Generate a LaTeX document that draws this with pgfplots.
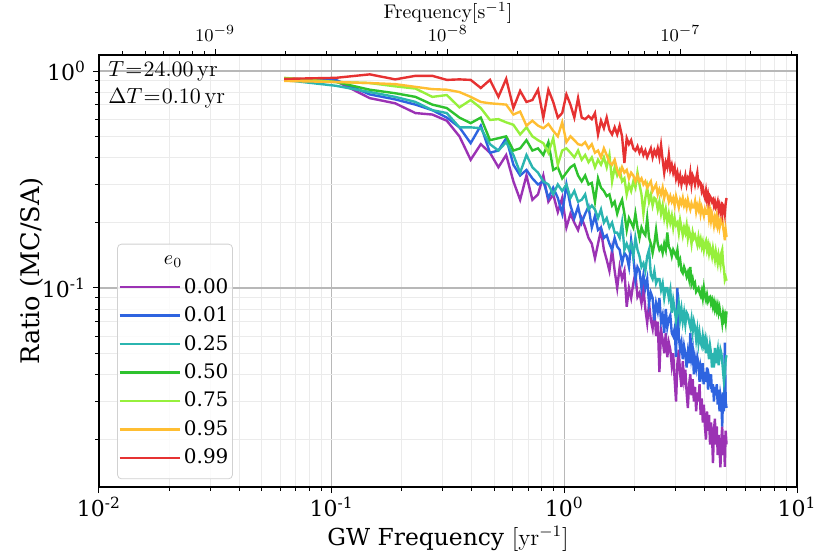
\documentclass[border=0pt]{standalone}
\usepackage{fontspec}
\usepackage{pgfplots}
\pgfplotsset{compat=1.18}
\usepackage{pgfplotstable}
\newfontfamily\djs{DejaVu Serif}
\definecolor{cP}{HTML}{9B32B4}
\definecolor{cB}{HTML}{2E64E0}
\definecolor{cT}{HTML}{2BB5B0}
\definecolor{cG}{HTML}{2EC22E}
\definecolor{cL}{HTML}{96F03C}
\definecolor{cO}{HTML}{FFBE32}
\definecolor{cR}{HTML}{E63232}
\pgfplotstableread{
k p b t g l o r
1 0.92 0.92 0.91 0.92 0.93 0.90 0.92
2 0.90 0.91 0.855 0.89 0.89 0.89 0.93
3 0.75 0.78 0.80 0.82 0.88 0.88 0.965
4 0.71 0.74 0.76 0.79 0.85 0.87 0.915
5 0.64 0.70 0.72 0.76 0.83 0.845 0.95
6 0.63 0.66 0.66 0.70 0.76 0.825 0.95
7 0.59 0.61 0.64 0.675 0.775 0.82 0.91
8 0.50 0.55 0.55 0.61 0.68 0.80 0.915
9 0.39 0.465 0.55 0.575 0.735 0.76 0.91
10 0.46 0.56 0.545 0.61 0.675 0.72 0.835
11 0.42 0.42 0.46 0.48 0.595 0.71 0.91
12 0.36 0.43 0.43 0.49 0.60 0.705 0.76
13 0.41 0.49 0.47 0.50 0.58 0.70 0.92
14 0.31 0.37 0.41 0.43 0.565 0.63 0.675
15 0.255 0.33 0.34 0.44 0.51 0.65 0.81
16 0.33 0.35 0.41 0.48 0.55 0.56 0.72
17 0.255 0.32 0.36 0.43 0.50 0.59 0.735
18 0.27 0.30 0.34 0.44 0.48 0.56 0.82
19 0.33 0.31 0.31 0.41 0.465 0.545 0.61
20 0.25 0.26 0.30 0.47 0.42 0.57 0.82
21 0.27 0.29 0.27 0.35 0.49 0.53 0.72
22 0.224 0.26 0.30 0.36 0.37 0.50 0.61
23 0.26 0.22 0.28 0.32 0.43 0.58 0.64
24 0.19 0.30 0.30 0.34 0.44 0.47 0.78
25 0.22 0.24 0.26 0.36 0.42 0.50 0.70
26 0.20 0.21 0.28 0.37 0.40 0.48 0.61
27 0.185 0.237 0.25 0.33 0.43 0.46 0.75
28 0.21 0.20 0.255 0.31 0.39 0.455 0.61
29 0.19 0.22 0.27 0.33 0.41 0.47 0.60
30 0.17 0.237 0.23 0.30 0.38 0.44 0.62
31 0.16 0.19 0.24 0.305 0.40 0.46 0.60
32 0.137 0.215 0.23 0.25 0.36 0.42 0.64
33 0.16 0.185 0.21 0.32 0.39 0.43 0.51
34 0.185 0.19 0.23 0.29 0.37 0.40 0.59
35 0.15 0.17 0.20 0.28 0.40 0.44 0.545
36 0.135 0.175 0.21 0.265 0.36 0.41 0.61
37 0.12 0.16 0.19 0.27 0.41 0.38 0.535
38 0.15 0.15 0.20 0.24 0.31 0.37 0.51
39 0.12 0.17 0.18 0.25 0.36 0.39 0.55
40 0.10 0.155 0.18 0.22 0.33 0.35 0.51
41 0.125 0.15 0.17 0.24 0.35 0.33 0.56
42 0.11 0.13 0.20 0.255 0.31 0.36 0.50
43 0.12 0.145 0.15 0.22 0.32 0.34 0.377
44 0.082 0.14 0.16 0.185 0.27 0.35 0.49
45 0.10 0.125 0.15 0.21 0.30 0.32 0.46
46 0.09 0.166 0.16 0.20 0.28 0.34 0.48
47 0.105 0.14 0.14 0.19 0.31 0.33 0.44
48 0.117 0.109 0.17 0.22 0.29 0.31 0.43
49 0.091 0.125 0.15 0.19 0.34 0.33 0.45
50 0.095 0.12 0.14 0.17 0.30 0.31 0.42
51 0.085 0.10 0.125 0.19 0.27 0.32 0.44
52 0.10 0.115 0.13 0.18 0.22 0.30 0.41
53 0.08 0.10 0.12 0.175 0.26 0.31 0.43
54 0.069 0.11 0.14 0.21 0.29 0.29 0.40
55 0.085 0.085 0.15 0.17 0.25 0.30 0.42
56 0.071 0.095 0.115 0.16 0.27 0.31 0.44
57 0.065 0.09 0.11 0.145 0.24 0.28 0.40
58 0.079 0.071 0.12 0.16 0.26 0.29 0.43
59 0.06 0.085 0.105 0.185 0.255 0.30 0.41
60 0.07 0.078 0.11 0.16 0.23 0.27 0.44
61 0.041 0.09 0.11 0.15 0.25 0.285 0.40
62 0.064 0.07 0.098 0.155 0.22 0.27 0.455
63 0.058 0.075 0.105 0.145 0.24 0.29 0.39
64 0.05 0.062 0.09 0.16 0.21 0.26 0.34
65 0.062 0.08 0.10 0.15 0.23 0.28 0.38
66 0.048 0.066 0.10 0.18 0.20 0.27 0.36
67 0.056 0.072 0.09 0.155 0.22 0.25 0.41
68 0.052 0.075 0.098 0.15 0.20 0.265 0.35
69 0.044 0.062 0.077 0.14 0.215 0.25 0.37
70 0.05 0.06 0.088 0.15 0.19 0.26 0.34
71 0.038 0.065 0.08 0.145 0.21 0.24 0.36
72 0.030 0.048 0.071 0.14 0.195 0.265 0.32
73 0.045 0.10 0.078 0.15 0.20 0.25 0.34
74 0.052 0.06 0.085 0.13 0.18 0.235 0.31
75 0.04 0.052 0.072 0.135 0.205 0.255 0.33
76 0.035 0.056 0.08 0.12 0.19 0.245 0.30
77 0.046 0.047 0.07 0.117 0.175 0.26 0.32
78 0.038 0.054 0.077 0.125 0.19 0.24 0.31
79 0.042 0.05 0.068 0.12 0.18 0.25 0.33
80 0.033 0.043 0.077 0.113 0.195 0.235 0.30
81 0.028 0.05 0.075 0.118 0.17 0.255 0.32
82 0.036 0.045 0.07 0.11 0.185 0.24 0.31
83 0.04 0.062 0.066 0.125 0.175 0.23 0.34
84 0.032 0.048 0.072 0.105 0.16 0.245 0.30
85 0.038 0.052 0.063 0.11 0.18 0.235 0.33
86 0.03 0.04 0.07 0.102 0.17 0.235 0.32
87 0.035 0.047 0.066 0.105 0.175 0.25 0.30
88 0.027 0.043 0.058 0.096 0.166 0.225 0.32
89 0.033 0.048 0.064 0.098 0.158 0.24 0.34
90 0.030 0.045 0.056 0.10 0.172 0.23 0.30
91 0.036 0.037 0.062 0.095 0.16 0.245 0.31
92 0.026 0.043 0.056 0.092 0.168 0.22 0.305
93 0.031 0.04 0.054 0.097 0.155 0.235 0.28
94 0.024 0.045 0.06 0.09 0.163 0.225 0.29
95 0.029 0.036 0.055 0.10 0.15 0.215 0.27
96 0.023 0.041 0.058 0.092 0.16 0.23 0.26
97 0.020 0.037 0.05 0.088 0.165 0.22 0.28
98 0.027 0.043 0.056 0.093 0.15 0.22 0.255
99 0.022 0.034 0.052 0.087 0.158 0.235 0.27
100 0.026 0.039 0.047 0.09 0.145 0.21 0.25
101 0.019 0.037 0.054 0.091 0.155 0.225 0.265
102 0.024 0.04 0.05 0.085 0.148 0.205 0.26
103 0.021 0.033 0.043 0.088 0.14 0.22 0.25
104 0.0156 0.036 0.05 0.082 0.152 0.21 0.255
105 0.022 0.03 0.043 0.086 0.143 0.195 0.24
106 0.025 0.035 0.053 0.08 0.135 0.21 0.25
107 0.019 0.032 0.045 0.084 0.147 0.20 0.235
108 0.023 0.036 0.049 0.079 0.138 0.215 0.24
109 0.017 0.029 0.052 0.083 0.13 0.195 0.25
110 0.021 0.034 0.044 0.077 0.142 0.205 0.23
111 0.018 0.027 0.048 0.081 0.135 0.19 0.24
112 0.0149 0.032 0.052 0.076 0.128 0.20 0.225
113 0.02 0.03 0.05 0.074 0.145 0.21 0.235
114 0.023 0.023 0.046 0.069 0.15 0.21 0.22
115 0.017 0.033 0.041 0.076 0.13 0.19 0.24
116 0.021 0.027 0.037 0.072 0.122 0.18 0.236
117 0.015 0.056 0.04 0.075 0.109 0.166 0.22
118 0.022 0.03 0.047 0.07 0.112 0.185 0.245
119 0.019 0.028 0.049 0.078 0.108 0.172 0.26
}\data
\begin{document}
\begin{tikzpicture}
\begin{axis}[
  at={(0pt,0pt)}, anchor=south west,
  scale only axis, width=349pt, height=216pt,
  xmode=log, ymode=log,
  xmin=0.01, xmax=10, ymin=0.0121, ymax=1.185,
  xtick={0.01,0.1,1,10},
  xticklabels={10\textsuperscript{-2},10\textsuperscript{-1},10\textsuperscript{0},10\textsuperscript{1}},
  minor xtick={0.02,0.03,0.04,0.05,0.06,0.07,0.08,0.09,0.2,0.3,0.4,0.5,0.6,0.7,0.8,0.9,2,3,4,5,6,7,8,9},
  ytick={0.1,1},
  yticklabels={10\textsuperscript{-1},10\textsuperscript{0}},
  minor ytick={0.02,0.03,0.04,0.05,0.06,0.07,0.08,0.09,0.2,0.3,0.4,0.5,0.6,0.7,0.8,0.9},
  tick pos=left,
  tick align=outside,
  major tick length=3pt, minor tick length=1.8pt,
  every tick/.style={black, line width=0.5pt},
  grid=both,
  major grid style={draw=black!28, line width=0.6pt},
  minor grid style={draw=black!8, line width=0.5pt},
  axis line style={line width=0.6pt},
  ticklabel style={font=\djs\fontsize{11}{13}\selectfont},
  xticklabel style={yshift=1.5pt},
  xlabel={{\djs GW Frequency} $[\mathrm{yr}^{-1}]$},
  ylabel={\djs Ratio (MC/SA)},
  xlabel style={font=\fontsize{11.7}{14}\selectfont},
  ylabel style={font=\fontsize{12.8}{15}\selectfont},
  xlabel shift=-2pt,
  ylabel shift=-7.5pt,
  legend style={at={(0.026,0.018)}, anchor=south west, draw=black!18, rounded corners=2pt,
    fill=white, fill opacity=0.8, text opacity=1,
    font=\djs\fontsize{10}{12}\selectfont, row sep=1.3pt, inner xsep=0.5pt, inner ysep=4pt,
    nodes={inner xsep=1.5pt}},
  legend cell align=left,
  legend image code/.code={\draw[#1] (0pt,0pt) -- (30pt,0pt);},
  every axis plot/.append style={line width=1.2pt},
]
\addlegendimage{empty legend}
\addlegendentry{\hspace{-10pt}$e_0$}
\addplot[cP] table[x expr={(\thisrow{k}+0.5)/24}, y=p] {\data};
\addlegendentry{0.00}
\addplot[cB] table[x expr={(\thisrow{k}+0.5)/24}, y=b] {\data};
\addlegendentry{0.01}
\addplot[cT] table[x expr={(\thisrow{k}+0.5)/24}, y=t] {\data};
\addlegendentry{0.25}
\addplot[cG] table[x expr={(\thisrow{k}+0.5)/24}, y=g] {\data};
\addlegendentry{0.50}
\addplot[cL] table[x expr={(\thisrow{k}+0.5)/24}, y=l] {\data};
\addlegendentry{0.75}
\addplot[cO] table[x expr={(\thisrow{k}+0.5)/24}, y=o] {\data};
\addlegendentry{0.95}
\addplot[cR] table[x expr={(\thisrow{k}+0.5)/24}, y=r] {\data};
\addlegendentry{0.99}
\node[anchor=north west, align=left, inner sep=0pt, font=\fontsize{11.4}{13.5}\selectfont]
  at (rel axis cs:0.0129,0.986) {$T\mkern1mu{=}\mkern1mu24.00\,\mathrm{yr}$\\$\Delta T\mkern1mu{=}\mkern1mu0.10\,\mathrm{yr}$};
\end{axis}
\begin{axis}[
  at={(0pt,0pt)}, anchor=south west,
  scale only axis, width=349pt, height=216pt,
  xmode=log, xmin=3.1688e-10, xmax=3.1688e-7, ymin=0, ymax=1,
  axis x line*=top, axis y line=none,
  xtick={1e-9,1e-8,1e-7},
  xticklabels={$10^{-9}$,$10^{-8}$,$10^{-7}$},
  minor xtick={4e-10,5e-10,6e-10,7e-10,8e-10,9e-10,2e-9,3e-9,4e-9,5e-9,6e-9,7e-9,8e-9,9e-9,2e-8,3e-8,4e-8,5e-8,6e-8,7e-8,8e-8,9e-8,2e-7,3e-7},
  tick align=outside,
  major tick length=3pt, minor tick length=1.8pt,
  every tick/.style={black, line width=0.5pt},
  axis line style={line width=0.6pt},
  ticklabel style={font=\fontsize{9.3}{11}\selectfont},
  xlabel={Frequency$[\mathrm{s}^{-1}]$},
  xlabel style={font=\fontsize{9.9}{12}\selectfont},
  xlabel shift=-6pt,
]
\end{axis}
\pgfresetboundingbox
\path[use as bounding box] (-49.5pt,-33.5pt) rectangle (365.5pt,243.5pt);
\end{tikzpicture}
\end{document}
